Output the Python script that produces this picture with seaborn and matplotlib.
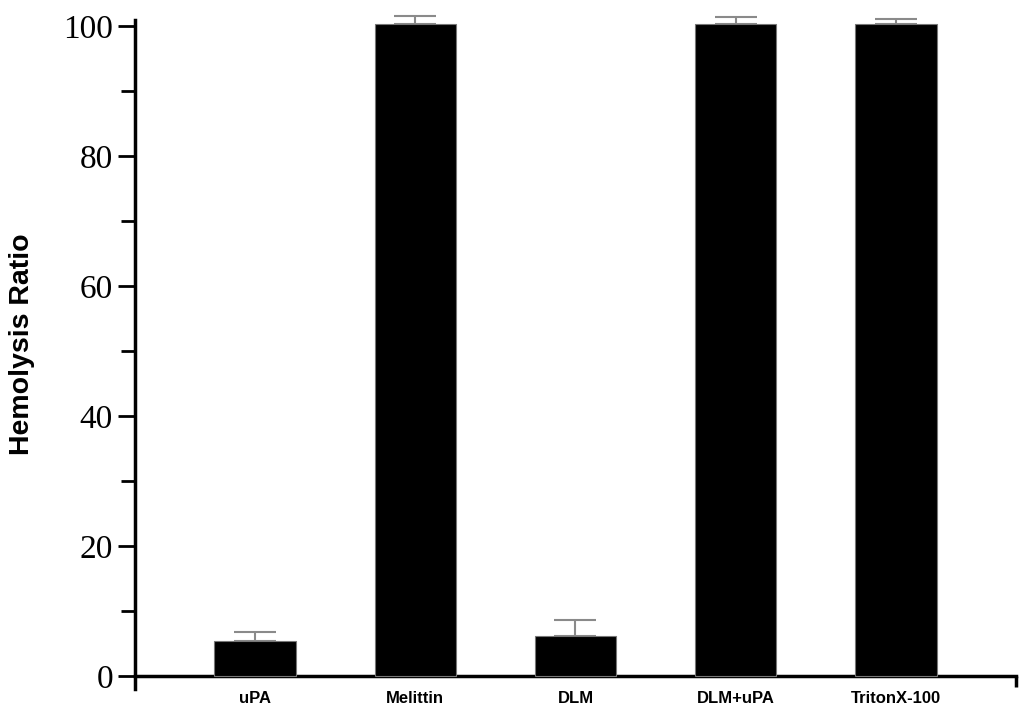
import matplotlib
matplotlib.use("Agg")
import matplotlib.pyplot as plt
import seaborn as sns
import pandas as pd
from matplotlib.ticker import MultipleLocator, FixedLocator

categories = ["uPA", "Melittin", "DLM", "DLM+uPA", "TritonX-100"]
values = [5.4, 100.3, 6.1, 100.3, 100.3]
errors = [1.4, 1.3, 2.5, 1.1, 0.7]
yticks = [0, 20, 40, 60, 80, 100]

sns.set_style("ticks")
df = pd.DataFrame({"group": categories, "ratio": values})

fig = plt.figure(figsize=(10.24, 7.17), dpi=100)
ax = fig.add_axes([0.132, 0.039, 0.860, 0.933])

sns.barplot(data=df, x="group", y="ratio", color="black", width=0.51,
            edgecolor="#777777", linewidth=0.8, errorbar=None, ax=ax, zorder=3)
eb = ax.errorbar(range(len(categories)), values, yerr=[[0]*len(errors), errors],
                 fmt="none", ecolor="#8a8a8a", elinewidth=1.5, capsize=15,
                 capthick=1.5, zorder=1)
for art in list(eb.lines[1]) + list(eb.lines[2]):
    art.set_clip_on(False)

ax.set_xlim(-0.75, 4.75)
ax.set_ylim(-2, 100.9)
ax.spines["right"].set_visible(False)
ax.spines["top"].set_visible(False)
ax.spines["bottom"].set_position(("data", 0))
ax.spines["left"].set_linewidth(2.5)
ax.spines["bottom"].set_linewidth(2.5)
ax.spines["left"].set_color("black")
ax.spines["bottom"].set_color("black")

ax.yaxis.set_major_locator(FixedLocator(yticks))
ax.yaxis.set_minor_locator(MultipleLocator(10))
ax.tick_params(axis="y", which="major", length=12, width=2, direction="out",
               labelsize=24, pad=4, color="black", labelcolor="black")
ax.tick_params(axis="y", which="minor", length=10, width=2, direction="out",
               color="black")
for lab in ax.get_yticklabels():
    lab.set_fontfamily("Liberation Serif")

ax.xaxis.set_minor_locator(FixedLocator([4.75]))
ax.tick_params(axis="x", which="major", length=0, pad=11, labelsize=12,
               labelcolor="black")
ax.tick_params(axis="x", which="minor", length=8, width=2.5, direction="out",
               color="black")
for lab in ax.get_xticklabels():
    lab.set_fontfamily("Liberation Sans")
    lab.set_fontweight("bold")

ax.set_xlabel("")
ax.set_ylabel("Hemolysis Ratio", fontsize=20.5, fontfamily="Liberation Sans",
              fontweight="bold", color="black")
ax.yaxis.set_label_coords(-0.114, 0.515)

fig.savefig("out.png", dpi=100)
